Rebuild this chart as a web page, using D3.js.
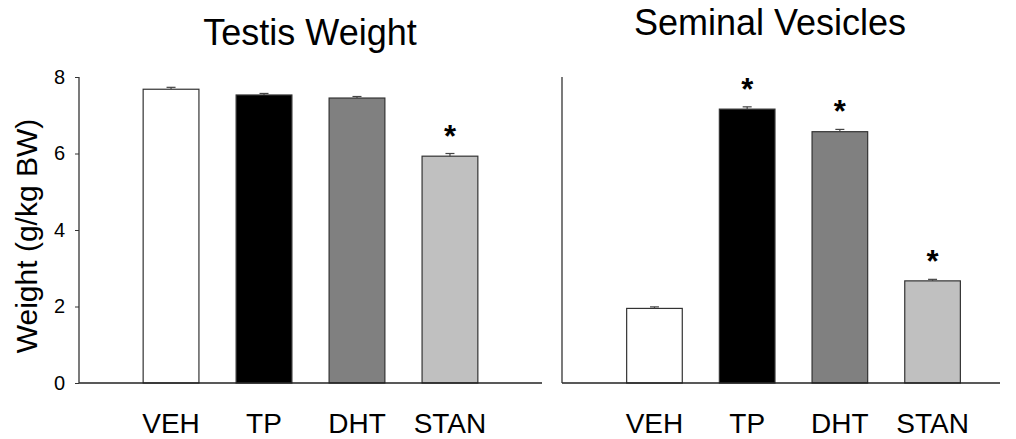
<!DOCTYPE html>
<html><head><meta charset="utf-8">
<script src="https://cdn.jsdelivr.net/npm/d3@7"></script>
<style>body{margin:0;background:#fff}svg{display:block}text{font-family:"Liberation Sans",Arial,sans-serif;fill:#000}</style>
</head><body>
<script>
const categories = ["VEH","TP","DHT","STAN"];
const colors = ["#ffffff","#000000","#808080","#c0c0c0"];
const testisMeans = [7.68,7.53,7.45,5.93];
const testisErr = [0.05,0.04,0.04,0.07];
const testisSig = [false,false,false,true];
const svMeans = [1.95,7.16,6.57,2.67];
const svErr = [0.04,0.06,0.06,0.04];
const svSig = [false,true,true,true];
const yTicks = [0,2,4,6,8];
const titles = ["Testis Weight","Seminal Vesicles"];
const yLabel = "Weight (g/kg BW)";

const W=1016,H=439;
const svg=d3.select("body").append("svg").attr("width",W).attr("height",H);
const y=d3.scaleLinear().domain([0,8]).range([383,77]);

const panels=[
 {x0:79,x1:542,align:0.5,po:0.69,means:testisMeans,err:testisErr,sig:testisSig,title:titles[0],tx:310,ty:45,axis:true},
 {x0:562,x1:1000,align:0.62,po:0.5625,means:svMeans,err:svErr,sig:svSig,title:titles[1],tx:770,ty:35,axis:false}
];

panels.forEach(p=>{
  const x=d3.scaleBand().domain(categories).range([p.x0,p.x1]).paddingInner(0.4).paddingOuter(p.po).align(p.align);
  const g=svg.append("g");
  g.selectAll("rect.bar").data(categories).join("rect")
    .attr("x",d=>x(d)).attr("width",x.bandwidth())
    .attr("y",(d,i)=>y(p.means[i])).attr("height",(d,i)=>y(0)-y(p.means[i]))
    .attr("fill",(d,i)=>colors[i]).attr("stroke","#333").attr("stroke-width",1.2);
  const cx=d=>x(d)+x.bandwidth()/2;
  g.selectAll("line.err").data(categories).join("line")
    .attr("x1",cx).attr("x2",cx)
    .attr("y1",(d,i)=>y(p.means[i])).attr("y2",(d,i)=>y(p.means[i]+p.err[i]))
    .attr("stroke","#444").attr("stroke-width",1.2);
  g.selectAll("line.cap").data(categories).join("line")
    .attr("x1",d=>cx(d)-4.5).attr("x2",d=>cx(d)+4.5)
    .attr("y1",(d,i)=>y(p.means[i]+p.err[i])).attr("y2",(d,i)=>y(p.means[i]+p.err[i]))
    .attr("stroke","#444").attr("stroke-width",1.2);
  g.selectAll("text.star").data(categories.filter((d,i)=>p.sig[i])).join("text")
    .attr("x",cx).attr("y",d=>{const i=categories.indexOf(d);return y(p.means[i]+p.err[i])-7;})
    .attr("text-anchor","middle").attr("font-size",31).attr("font-weight","bold").text("*");
  const xa=d3.axisBottom(x).tickSize(0).tickPadding(0);
  const xg=g.append("g").attr("transform","translate(0,383)").call(xa);
  xg.select(".domain").attr("d",`M${p.x0},0H${p.x1}`).attr("stroke","#222").attr("stroke-width",1.6);
  xg.selectAll(".tick text").attr("font-size",28).attr("y",50).attr("dy",0).attr("fill","#000");
  const ya=d3.axisLeft(y).tickValues(yTicks).tickSize(p.axis?4:0).tickPadding(10).tickFormat(d3.format("d"));
  const yg=g.append("g").attr("transform",`translate(${p.x0},0)`).call(ya);
  yg.select(".domain").attr("d","M0,383V77").attr("stroke","#333").attr("stroke-width",1.3);
  yg.selectAll(".tick line").attr("stroke","#333");
  if(p.axis){yg.selectAll(".tick text").attr("font-size",20).attr("fill","#000");}
  else {yg.selectAll(".tick").remove();}
  svg.append("text").attr("x",p.tx).attr("y",p.ty).attr("text-anchor","middle").attr("font-size",36).text(p.title);
});
svg.selectAll(".tick text").style("font-family",'"Liberation Sans",Arial,sans-serif');
svg.append("text").attr("transform","translate(36.5,236) rotate(-90)").attr("text-anchor","middle").attr("font-size",30).text(yLabel);
</script>
</body></html>
